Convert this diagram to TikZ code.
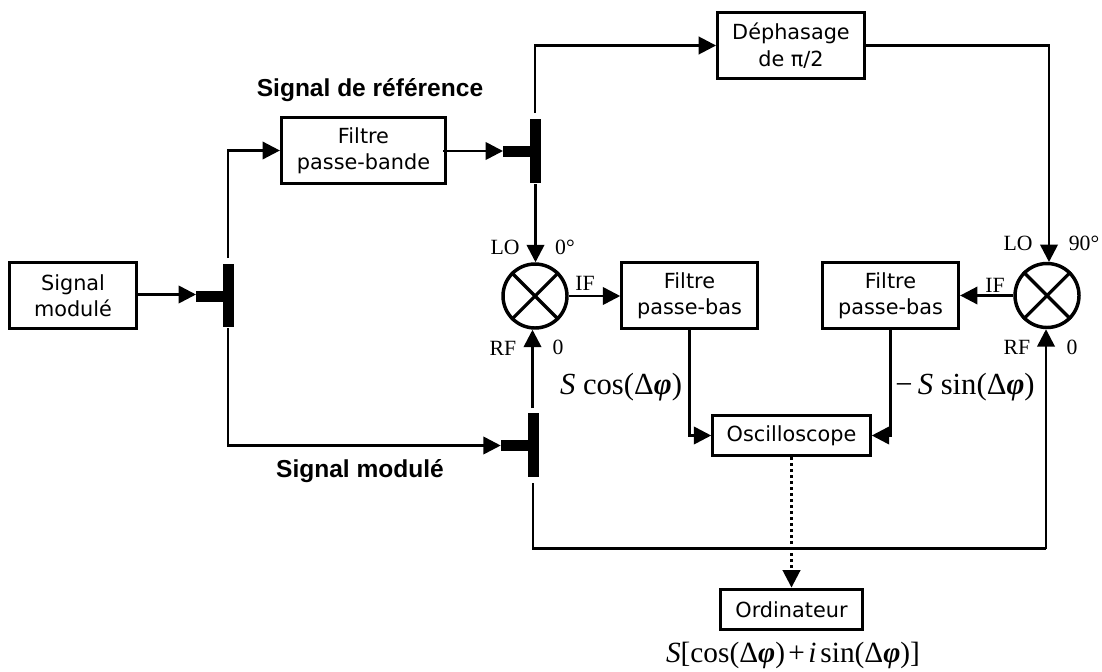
\documentclass[tikz,border=0pt]{standalone}
\usepackage{fontspec}
\setmainfont{DejaVu Sans}
\newfontfamily\lserif{Liberation Serif}
\newfontfamily\lsans{Liberation Sans}
\usetikzlibrary{arrows.meta}
\newcommand{\mathlbl}[1]{{\lserif\fontsize{23}{25}\selectfont #1}}
\newcommand{\mathlblb}[1]{{\lserif\fontsize{22}{25}\selectfont #1}}
\newcommand{\phiv}{\textbf{\textit{φ}}}
\tikzset{
  x=0.75pt,y=-0.75pt,
  box/.style={draw=black,line width=2.4pt,fill=white,inner sep=0pt,align=center,font=\fontsize{15.6}{19.8}\selectfont,minimum width=#1},
  bar/.style={fill=black,inner sep=0pt,minimum width=8.25pt,minimum height=47.75pt},
  stub/.style={fill=black,inner sep=0pt,minimum width=20.25pt,minimum height=8.25pt},
  mixer/.style={circle,draw=black,line width=2.6pt,minimum size=48pt,inner sep=0pt},
  arm/.style={line width=2.4pt},
  link/.style={line width=2pt,-{Triangle[length=13pt,width=13pt]}},
  plain/.style={line width=2pt},
  small/.style={font=\lserif\fontsize{16.3}{18}\selectfont,inner sep=0pt},
  head/.style={font=\lsans\bfseries\fontsize{18.4}{20}\selectfont,inner sep=0pt},
  eq/.style={inner sep=0pt}
}
\begin{document}
\begin{tikzpicture}
\useasboundingbox (0,0) rectangle (1102,671);
% boxes
\node[box=95.5pt,minimum height=49.5pt] (src) at (73,295.5) {Signal\\modulé};
\node[box=123pt,minimum height=49.5pt] (bp) at (363.5,150.5) {Filtre\\passe-bande};
\node[box=110pt,minimum height=49.5pt] (ph) at (791,45.5) {Déphasage\\de π/2};
\node[box=101.5pt,minimum height=49.5pt] (lpa) at (689.5,295.5) {Filtre\\passe-bas};
\node[box=102pt,minimum height=49.5pt] (lpb) at (890.5,295.5) {Filtre\\passe-bas};
\node[box=118pt,minimum height=30.5pt] (osc) at (791.5,435.5) {Oscilloscope};
\node[box=107pt,minimum height=30.5pt] (pc) at (791.5,609.5) {Ordinateur};
% mixers
\node[mixer] (ma) at (535,296) {};
\node[mixer] (mb) at (1047,295.5) {};
\draw[arm] (ma.45) -- (ma.225) (ma.135) -- (ma.315);
\draw[arm] (mb.45) -- (mb.225) (mb.135) -- (mb.315);
% splitters
\node[bar] (ta) at (228.5,295.5) {};
\node[stub] (sa) at (209.5,296.5) {};
\node[bar] (tb) at (535.5,151) {};
\node[stub] (sb) at (516.5,151.5) {};
\node[bar] (tc) at (533.5,445) {};
\node[stub] (sc) at (514.5,445.5) {};
% free ends
\coordinate (sain) at (196,294.5);
\coordinate (sbin) at (503,151);
\coordinate (bpout) at (443,151);
\coordinate (taup) at (228,258);
\coordinate (tadn) at (228,328);
\coordinate (tbup) at (535,113);
\coordinate (tbdn) at (535.5,184);
\coordinate (tcup) at (532.5,408);
\coordinate (tcdn) at (533,483);
\coordinate (bot) at (533,548.5);
\coordinate (botr) at (1046,548.5);
\coordinate (mbin) at (1049,262);
% connectors
\draw[link] (src.east |- sain) -- (sain);
\draw[link] (taup) |- (bp.west);
\draw[link] (tadn) |- (sc.west);
\draw[link] (bpout) -- (sbin);
\draw[link] (tbup) |- (ph.west);
\draw[link] (tbdn) -- (ma.north -| tbdn);
\draw[link] (ph.east) -| (mbin);
\draw[link] (tcup) -- (ma.south -| tcup);
\draw[plain] (tcdn) -- (bot) -- (botr);
\draw[link] (botr) -- (mb.south -| botr);
\draw[link] (ma.east) -- (lpa.west |- ma.east);
\draw[link] (mb.west) -- (lpb.east |- mb.west);
\draw[link] (lpa.south) |- (osc.west);
\draw[link] (lpb.south) |- (osc.east);
\draw[link,dash pattern=on 2pt off 2.5pt] (osc.south) -- (pc.north);
% labels
\node[head] (h1) at (370,90) {Signal de référence};
\node[head] (h2) at (360,471) {Signal modulé};
\node[small] (l1) at (505,247) {LO};
\node[small] (l2) at (565,247) {0°};
\node[small] (l3) at (503,348) {RF};
\node[small] (l4) at (558,347) {0};
\node[small] (l5) at (585,283) {IF};
\node[small] (l6) at (1018,243) {LO};
\node[small] (l7) at (1084,243) {90°};
\node[small] (l8) at (1017,347) {RF};
\node[small] (l9) at (1072,347) {0};
\node[small] (l10) at (995,285) {IF};
\node[eq] (e1) at (621,387) {\mathlbl{\textit{S} cos(Δ\phiv)}};
\node[eq] (e2) at (965,387) {\mathlbl{−\,\textit{S} sin(Δ\phiv)}};
\node[eq] (e3) at (793,655) {\mathlblb{\textit{S}[cos(Δ\phiv)\kern2.5pt+\kern2.5pt\textit{i}\kern3pt sin(Δ\phiv)]}};
\end{tikzpicture}
\end{document}
